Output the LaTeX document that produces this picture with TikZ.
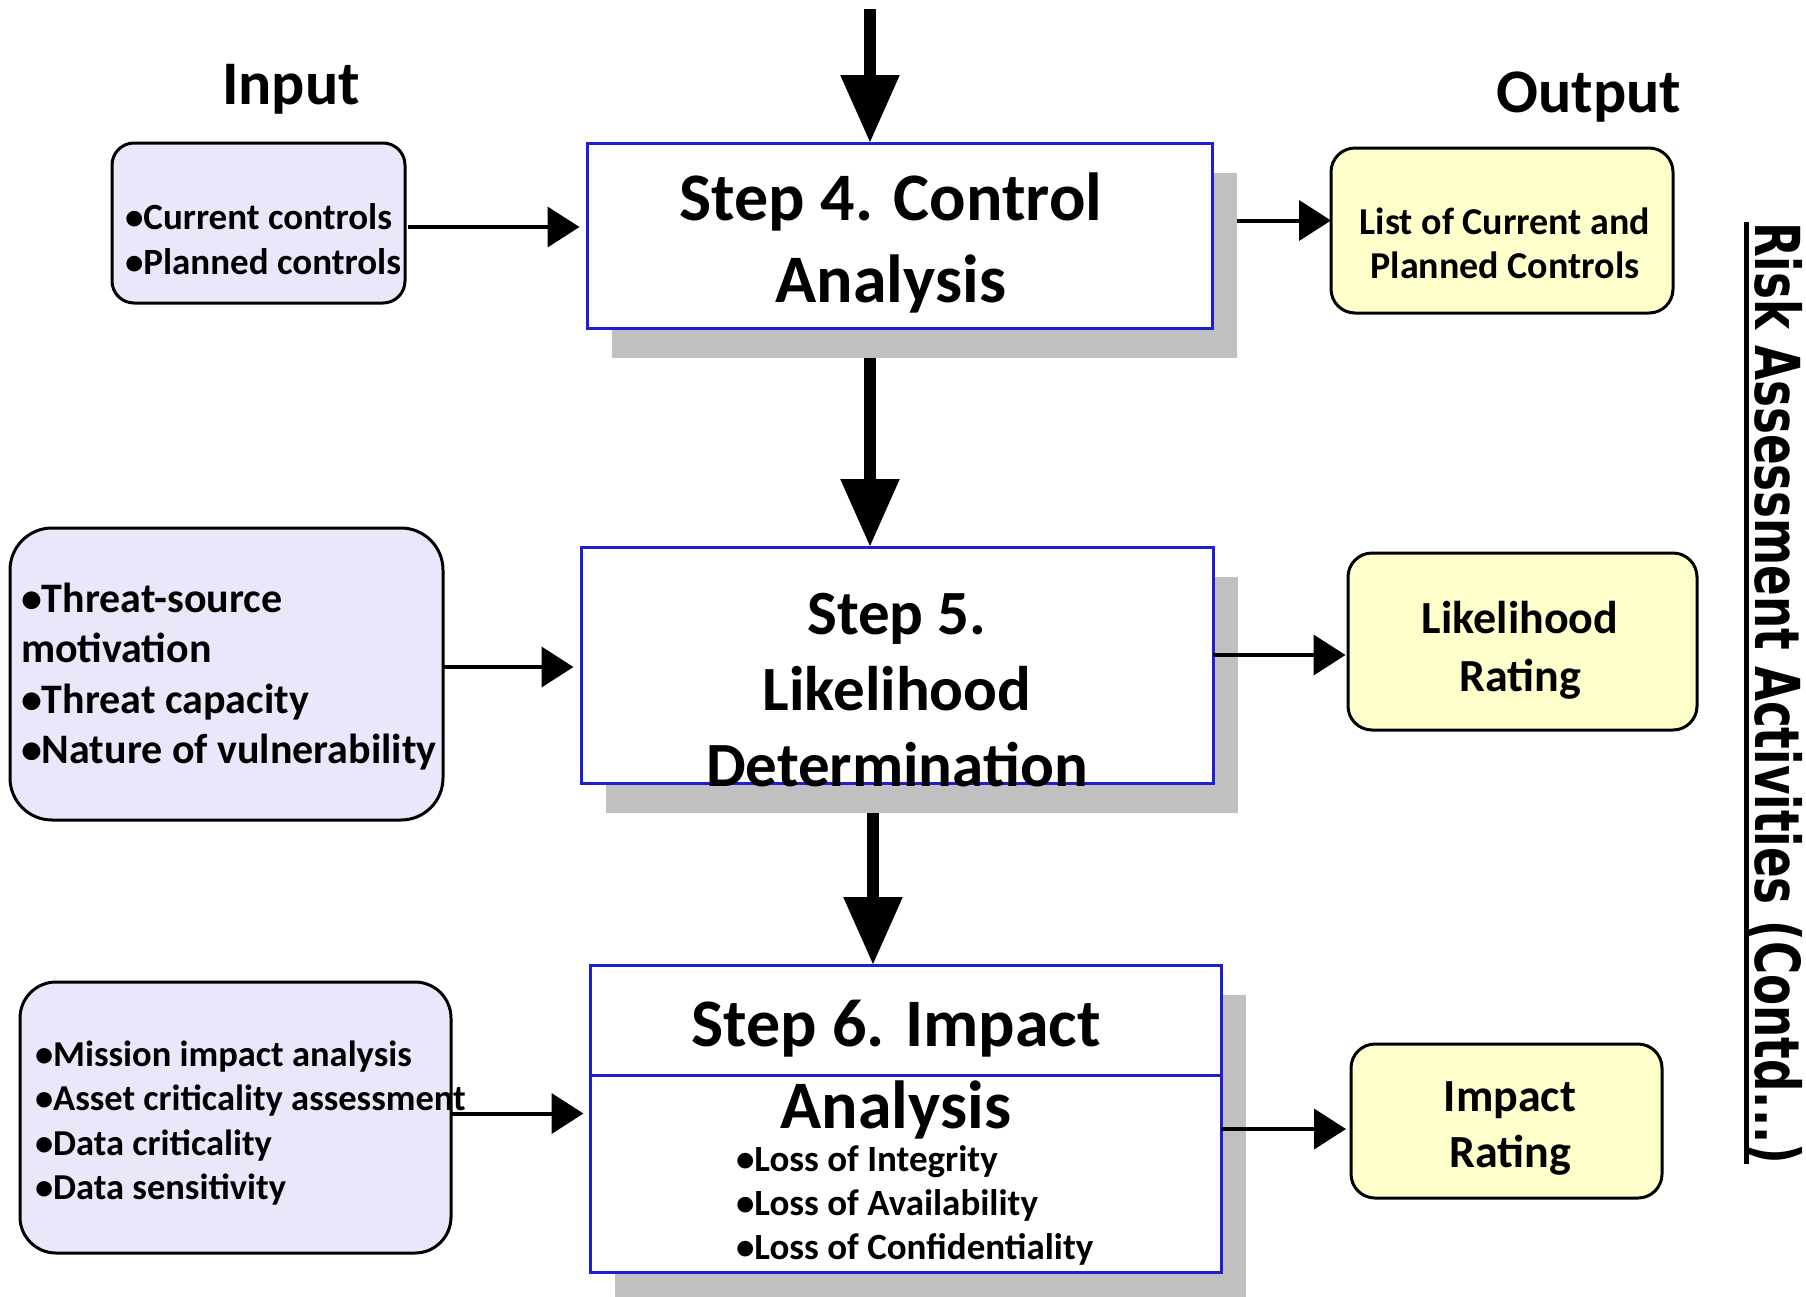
\documentclass[tikz,border=0pt]{standalone}
\usepackage{fontspec}
\setmainfont{Carlito}
\newfontfamily\vsans{DejaVu Sans}
\usetikzlibrary{arrows.meta}

% text with a thick rule under its baseline
\newcommand\ulinetext[1]{\setbox0=\hbox{#1}\rlap{\rule[-11.5pt]{\wd0}{5pt}}\box0}

\definecolor{stepblue}{RGB}{30,30,210}
\definecolor{shadowgray}{RGB}{192,192,192}
\definecolor{inlav}{RGB}{232,232,250}
\definecolor{outyellow}{RGB}{255,255,204}

\begin{document}
\begin{tikzpicture}[x=1pt,y=-1pt,
  every node/.style={inner sep=0pt, outer sep=0pt},
  stepbox/.style={draw=stepblue, line width=3pt, fill=white},
  shadebox/.style={fill=shadowgray, draw=none},
  inbox/.style={draw=black, line width=3pt, fill=inlav},
  outbox/.style={draw=black, line width=3pt, fill=outyellow},
  flow/.style={line width=12pt, -{Triangle[length=68pt,width=56pt]}},
  feed/.style={line width=4pt, -{Triangle[length=32pt,width=40pt]}},
  bigtxt/.style={font=\bfseries\fontsize{68}{82}\selectfont, align=center, anchor=base},
  midtxt/.style={font=\bfseries\fontsize{46}{58}\selectfont, align=center, anchor=base},
  listtxt/.style={align=left, anchor=base west},
]
\useasboundingbox (0,0) rectangle (1806,1296);

% headings
\node[font=\bfseries\fontsize{62}{70}\selectfont, anchor=base] (inlabel) at (291,104) {Input};
\node[font=\bfseries\fontsize{62}{70}\selectfont, anchor=base] (outlabel) at (1589,112) {Output};

% step boxes with their drop shadows
\node[shadebox, minimum width=625pt, minimum height=185pt] (sh4) at (924.5,265.5) {};
\node[stepbox, minimum width=625pt, minimum height=185pt] (step4) at (899.5,235.5) {};
\node[shadebox, minimum width=632pt, minimum height=236pt] (sh5) at (922,695) {};
\node[stepbox, minimum width=632pt, minimum height=236pt] (step5) at (897,665) {};
\node[shadebox, minimum width=631pt, minimum height=307pt] (sh6) at (930.5,1148.5) {};
\node[stepbox, minimum width=631pt, minimum height=307pt] (step6) at (905.5,1118.5) {};
\coordinate (divider) at (0,1075);
\draw[stepblue, line width=3pt] (step6.west |- divider) -- (step6.east |- divider);

% step texts (anchored on the baseline of their last line)
\node[bigtxt] (s4t) at (891,302) {Step 4. Control\\Analysis};
\node[bigtxt, font=\bfseries\fontsize{63}{76}\selectfont] (s5t) at (897,786) {Step 5.\\Likelihood\\Determination};
\node[bigtxt] (s6t) at (896,1128) {Step 6. Impact\\Analysis};
\node[listtxt, font=\bfseries\fontsize{37}{44}\selectfont] (s6l) at (736,1259)
  {•Loss of Integrity\\•Loss of Availability\\•Loss of Confidentiality};

% input boxes
\node[inbox, rounded corners=22pt, minimum width=293pt, minimum height=160pt] (in1) at (258.5,223) {};
\node[listtxt, font=\bfseries\fontsize{37}{45}\selectfont] (in1t) at (125,274)
  {•Current controls\\•Planned controls};
\node[inbox, rounded corners=42pt, minimum width=433pt, minimum height=292pt] (in2) at (226.5,674) {};
\node[listtxt, font=\bfseries\fontsize{42}{50.5}\selectfont] (in2t) at (21,763.5)
  {•Threat-source\\motivation\\•Threat capacity\\•Nature of vulnerability};
\node[inbox, rounded corners=36pt, minimum width=431pt, minimum height=271pt] (in3) at (235.5,1117.5) {};
\node[listtxt, font=\bfseries\fontsize{36.5}{44.5}\selectfont] (in3t) at (35,1199.5)
  {•Mission impact analysis\\•Asset criticality assessment\\•Data criticality\\•Data sensitivity};

% output boxes
\node[outbox, rounded corners=24pt, minimum width=342pt, minimum height=165pt] (out1) at (1502,230.5) {};
\node[midtxt, font=\bfseries\fontsize{38}{44}\selectfont] (out1t) at (1505,278) {List of Current and\\Planned Controls};
\node[outbox, rounded corners=24pt, minimum width=349pt, minimum height=177pt] (out2) at (1522.5,641.5) {};
\node[midtxt] (out2t) at (1520,691) {Likelihood\\Rating};
\node[outbox, rounded corners=24pt, minimum width=311pt, minimum height=154pt] (out3) at (1506.5,1121) {};
\node[midtxt, font=\bfseries\fontsize{46}{56}\selectfont] (out3t) at (1510,1167) {Impact\\Rating};

% vertical title at the right edge
\node[rotate=-90, anchor=base west, font=\vsans\bfseries\fontsize{62}{70}\selectfont] (title) at (1755,222)
  {\scalebox{0.73}[1]{\ulinetext{Risk Assessment Activities (Contd...)}}};

% main flow
\coordinate (entry) at (870,9);
\coordinate (lane) at (873,800);
\draw[flow] (entry) -- (entry |- step4.north);
\draw[flow] (entry |- sh4.south) -- (entry |- step5.north);
\draw[flow] (lane |- sh5.south) -- (lane |- step6.north);

% inputs feeding each step
\coordinate (i1) at ([yshift=-4pt]in1.east);
\coordinate (i2) at ([yshift=7pt]in2.east);
\coordinate (i3) at ([yshift=4pt]in3.east);
\draw[feed, shorten >=7.5pt] ([xshift=3pt]i1) -- (i1 -| step4.west);
\draw[feed, shorten >=7.5pt] (i2) -- (i2 -| step5.west);
\draw[feed, shorten >=6.5pt] (i3) -- (i3 -| step6.west);

% outputs of each step
\coordinate (o1) at ([yshift=10pt]out1.west);
\coordinate (o2) at ([yshift=-13.5pt]out2.west);
\coordinate (o3) at ([yshift=-8pt]out3.west);
\draw[feed] (o1 -| sh4.east) -- (o1);
\draw[feed, shorten >=2.5pt] (o2 -| step5.east) -- (o2);
\draw[feed, shorten >=5pt] (o3 -| step6.east) -- (o3);
\end{tikzpicture}
\end{document}
